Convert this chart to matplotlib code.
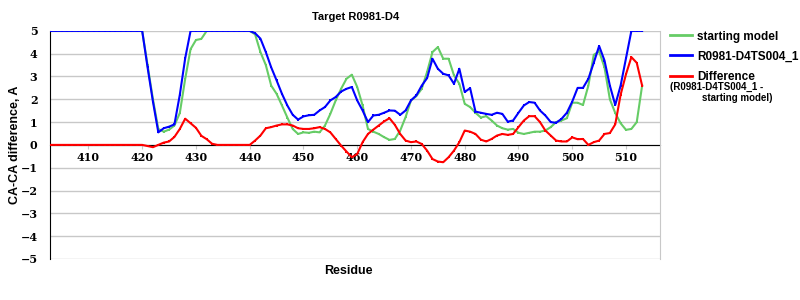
import numpy as np
import matplotlib
matplotlib.use("Agg")
import matplotlib.pyplot as plt
from matplotlib.lines import Line2D

# residues 403..513
residues = np.arange(403, 514)

starting_model = ([5.0] * 18 +
    [3.5, 2.0, 0.7, 0.58, 0.67, 0.85, 1.4, 2.9, 4.2, 4.6, 4.65] + [5.0] * 9 +
    [4.85, 4.07, 3.5, 2.6, 2.24, 1.73, 1.2, 0.7, 0.48, 0.55,
     0.53, 0.58, 0.55, 0.85, 1.36, 1.95, 2.46, 2.9, 3.08, 2.54,
     1.73, 0.7, 0.58, 0.48, 0.34, 0.22, 0.26, 0.63, 1.22, 1.95,
     2.14, 2.46, 3.2, 4.07, 4.29, 3.78, 3.78, 3.05, 2.68, 1.8,
     1.66, 1.41, 1.2, 1.26, 1.07, 0.85, 0.73, 0.67, 0.7, 0.53,
     0.48, 0.53, 0.58, 0.58, 0.63, 0.78, 1.0, 1.07, 1.17, 1.85,
     1.85, 1.75, 2.6, 3.95, 4.1, 3.4, 2.0, 1.4, 0.95, 0.66, 0.7, 1.0, 2.6])

model_ts004 = ([5.0] * 18 +
    [3.4, 1.9, 0.55, 0.73, 0.8, 0.9, 2.2, 3.8] + [5.0] * 12 +
    [4.9, 4.66, 4.07, 3.4, 2.83, 2.24, 1.73, 1.32, 1.11, 1.25,
     1.3, 1.32, 1.51, 1.66, 1.95, 2.1, 2.34, 2.46, 2.54, 1.95,
     1.51, 1.0, 1.29, 1.32, 1.41, 1.51, 1.5, 1.32, 1.51, 1.95,
     2.17, 2.6, 2.93, 3.78, 3.34, 3.12, 3.05, 2.68, 3.34, 2.32,
     2.49, 1.46, 1.41, 1.36, 1.32, 1.41, 1.36, 1.02, 1.07, 1.41,
     1.73, 1.88, 1.85, 1.51, 1.29, 1.0, 0.97, 1.14, 1.41, 1.9,
     2.5, 2.5, 2.9, 3.6, 4.34, 3.7, 2.6, 1.75, 2.6, 3.8, 5.0, 5.0, 5.0])

difference = ([0.0] * 18 +
    [-0.05, -0.1, 0.0, 0.1, 0.15, 0.35, 0.7, 1.15, 0.95, 0.75, 0.4, 0.25, 0.05] + [0.0] * 7 +
    [0.19, 0.41, 0.73, 0.78, 0.85, 0.9, 0.9, 0.85, 0.73, 0.7,
     0.7, 0.73, 0.78, 0.7, 0.55, 0.26, -0.03, -0.29, -0.54, -0.4,
     0.12, 0.48, 0.67, 0.85, 1.03, 1.17, 0.88, 0.48, 0.19, 0.12,
     0.15, 0.04, -0.25, -0.62, -0.73, -0.76, -0.54, -0.25, 0.12, 0.63,
     0.58, 0.48, 0.23, 0.15, 0.26, 0.41, 0.48, 0.44, 0.48, 0.78,
     1.07, 1.26, 1.26, 1.0, 0.63, 0.41, 0.19, 0.15, 0.15, 0.33,
     0.25, 0.26, 0.0, 0.12, 0.19, 0.48, 0.52, 0.9, 2.2, 3.1, 3.85, 3.6, 2.6])

x_ticks = list(range(410, 511, 10))
y_ticks = list(range(-5, 6))

green = "#66cc66"
blue = "#0000ff"
red = "#ff0000"
grid_gray = "#c8c8c8"

fig = plt.figure(figsize=(8, 3), dpi=100)
ax = fig.add_axes([0.0625, 0.137, 0.763, 0.76])

ax.set_xlim(402.85, 516.4)
ax.set_ylim(-5, 5)

mk = dict(marker="s", markersize=1.6, markeredgewidth=0)
ax.plot(residues, starting_model, color=green, lw=1.5, zorder=3, **mk)
ax.plot(residues, model_ts004, color=blue, lw=1.5, zorder=4, **mk)
ax.plot(residues, difference, color=red, lw=1.5, zorder=5, **mk)

ax.set_yticks(y_ticks)
ax.set_xticks(x_ticks)
ax.grid(axis="y", color=grid_gray, lw=1)
ax.set_axisbelow(True)

ax.spines["top"].set_visible(False)
ax.spines["right"].set_color(grid_gray)
ax.spines["left"].set_color("black")
ax.spines["bottom"].set_position(("data", 0))
ax.spines["bottom"].set_color("black")
ax.spines["bottom"].set_zorder(2)

tick_font = dict(family="DejaVu Serif", weight="bold", size=8)
ax.tick_params(axis="y", length=0, pad=9)
ax.tick_params(axis="x", length=3, color=grid_gray, pad=2)
ax.set_yticklabels([f"\u2212{abs(v)}" if v < 0 else str(v) for v in y_ticks], **tick_font)
ax.set_xticklabels([str(v) for v in x_ticks], **tick_font)

ax.set_title("Target R0981-D4", fontsize=8, fontweight="bold", family="Liberation Sans", pad=8)
ax.set_ylabel("CA-CA difference, A", fontsize=9, fontweight="bold", family="Liberation Sans", labelpad=0)
ax.yaxis.set_label_coords(-0.047, 0.5)
fig.text(0.435, 0.098, "Residue", ha="center", va="center", fontsize=9,
         fontweight="bold", family="Liberation Sans")

handles = [Line2D([], [], color=green, lw=2),
           Line2D([], [], color=blue, lw=2),
           Line2D([], [], color=red, lw=2)]
labels = ["starting model", "R0981-D4TS004_1", "Difference"]
fig.legend(handles, labels, loc="upper left", bbox_to_anchor=(0.8375, 0.898),
           frameon=False, handlelength=1.86, handletextpad=0.42, labelspacing=0.68,
           borderaxespad=0, borderpad=0,
           prop=dict(family="Liberation Sans", weight="bold", size=8.5))
fig.text(0.8375, 0.71, "(R0981-D4TS004_1 -", fontsize=7, fontweight="bold",
         family="Liberation Sans", va="center")
fig.text(0.8775, 0.673, "starting model)", fontsize=7, fontweight="bold",
         family="Liberation Sans", va="center")

fig.savefig("out.png", dpi=100)
